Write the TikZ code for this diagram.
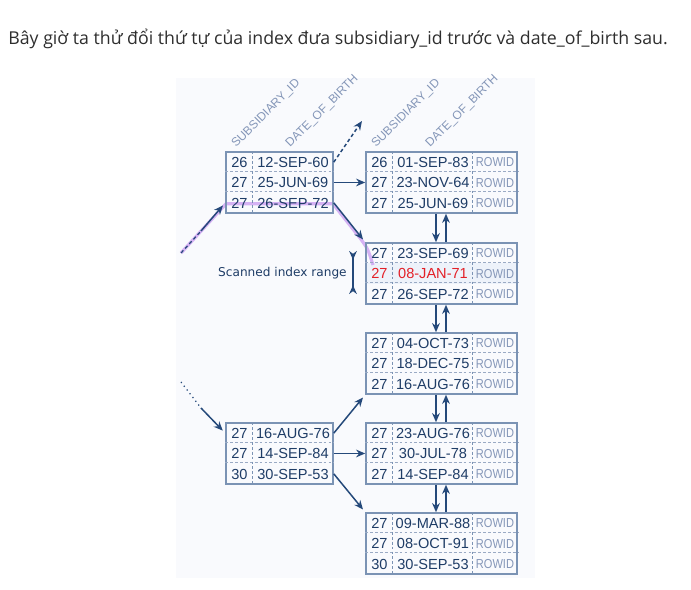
\documentclass[tikz,border=0pt]{standalone}
\usepackage{fontspec}
\setmainfont{Open Sans}
\newfontfamily\cellfont{Liberation Sans}
\newfontfamily\notefont{DejaVu Sans}
\usetikzlibrary{arrows.meta,calc}

\definecolor{ink}{HTML}{1E3C66}
\definecolor{wire}{HTML}{25497A}
\definecolor{frame}{HTML}{7B93B4}
\definecolor{sep}{HTML}{9AAAC4}
\definecolor{pale}{HTML}{8496B8}
\definecolor{hit}{HTML}{E32028}
\definecolor{scan}{HTML}{C99BF2}
\definecolor{panel}{HTML}{F9FAFD}
\definecolor{rowfill}{HTML}{EDF2FA}
\definecolor{title}{HTML}{2E2E2E}

\tikzset{
  box/.style={draw=frame,line width=0.9pt,minimum height=1.22cm,inner sep=0pt},
  cell/.style={font=\cellfont\fontsize{8.3}{9}\selectfont,text=ink,inner sep=0pt,
    text height=6pt,text depth=0pt},
  rowid/.style={font=\cellfont\fontsize{7.4}{8}\selectfont,text=pale,inner sep=0pt,
    text height=5.4pt,text depth=0pt},
  head/.style={font=\cellfont\fontsize{6.8}{8}\selectfont,text=pale,rotate=45,
    anchor=base west,inner sep=0pt},
  sepline/.style={draw=sep,line width=0.5pt,dash pattern=on 1.6pt off 1.2pt},
  colline/.style={draw=frame,line width=0.6pt,dash pattern=on 1.6pt off 1.2pt},
  link/.style={draw=wire,line width=0.85pt,-{Stealth[length=5.2pt,width=4.4pt]}},
  scanpath/.style={draw=scan,line width=1.8pt,opacity=0.75,line join=round},
}

% leaf block: name, center y, rows id/date/colour
\newcommand{\leafblock}[3]{%
  \node[box,minimum width=3.02cm] (#1) at (441.5,#2) {};
  \foreach \s/\d/\c [count=\r] in {#3} {
    \node[cell,text=\c] (#1-s\r) at (379.5,{#2-40.67+20.33*\r}) {\s};
    \node[cell,text=\c] (#1-d\r) at (433,{#2-40.67+20.33*\r}) {\d};
    \node[rowid] (#1-r\r) at (495,{#2-40.67+20.33*\r}) {\scalebox{0.85}[1]{ROWID}};
  }
  \draw[sepline] ($(#1.north west)+(0,20.33)$) -- ($(#1.north east)+(0,20.33)$);
  \draw[sepline] ($(#1.north west)+(0,40.67)$) -- ($(#1.north east)+(0,40.67)$);
  \draw[colline] ($(#1.north west)+(27,0)$) -- ($(#1.south west)+(27,0)$);
  \draw[colline] ($(#1.north west)+(107,0)$) -- ($(#1.south west)+(107,0)$);
}
% branch block: name, center y, rows id/date
\newcommand{\branchblock}[3]{%
  \node[box,minimum width=2.14cm] (#1) at (279.5,#2) {};
  \foreach \s/\d [count=\r] in {#3} {
    \node[cell] (#1-s\r) at (239.5,{#2-40.67+20.33*\r}) {\s};
    \node[cell] (#1-d\r) at (293,{#2-40.67+20.33*\r}) {\d};
  }
  \draw[sepline] ($(#1.north west)+(0,20.33)$) -- ($(#1.north east)+(0,20.33)$);
  \draw[sepline] ($(#1.north west)+(0,40.67)$) -- ($(#1.north east)+(0,40.67)$);
  \draw[colline] ($(#1.north west)+(27,0)$) -- ($(#1.south west)+(27,0)$);
}

\begin{document}
\begin{tikzpicture}[x=0.02cm,y=-0.02cm]
  \useasboundingbox (0,0) rectangle (691,590);
  \fill[panel] (176,78) rectangle (535,578);

  \node[font=\fontsize{10.1}{12}\selectfont,text=title,anchor=base west,inner sep=0pt]
    (caption) at (8,44.5) {Bây giờ ta thử đổi thứ tự của index đưa subsidiary\_id trước và date\_of\_birth sau.};

  % column headers
  \node[head] (h1) at (236,148) {SUBSIDIARY\_ID};
  \node[head] (h2) at (290,148) {DATE\_OF\_BIRTH};
  \node[head] (h3) at (376,148) {SUBSIDIARY\_ID};
  \node[head] (h4) at (430,148) {DATE\_OF\_BIRTH};

  % scanned range
  \fill[rowfill] (366,263.3) rectangle (517,283.7);
  \coordinate (inA) at (181,253);
  \coordinate (inAm) at (201,231);
  \draw[scanpath] (inA) -- (226,203.8) -- (333,203.8) -- (360,238)
    .. controls (368,249) .. (373,265);

  \branchblock{b1}{182.5}{26/12-SEP-60, 27/25-JUN-69, 27/26-SEP-72}
  \branchblock{b2}{453.5}{27/16-AUG-76, 27/14-SEP-84, 30/30-SEP-53}
  \leafblock{l1}{182.5}{26/01-SEP-83/ink, 27/23-NOV-64/ink, 27/25-JUN-69/ink}
  \leafblock{l2}{273.5}{27/23-SEP-69/ink, 27/08-JAN-71/hit, 27/26-SEP-72/ink}
  \leafblock{l3}{363.5}{27/04-OCT-73/ink, 27/18-DEC-75/ink, 27/16-AUG-76/ink}
  \leafblock{l4}{453.5}{27/23-AUG-76/ink, 27/30-JUL-78/ink, 27/14-SEP-84/ink}
  \leafblock{l5}{543.5}{27/09-MAR-88/ink, 27/08-OCT-91/ink, 30/30-SEP-53/ink}

  % leaf chain
  \foreach \a/\b in {l1/l2,l2/l3,l3/l4,l4/l5} {
    \draw[link] ([xshift=-0.11cm]\a.south) -- ([xshift=-0.11cm]\b.north);
    \draw[link] ([xshift=0.09cm]\b.north) -- ([xshift=0.09cm]\a.south);
  }

  % branch to leaves
  \coordinate (upnext) at (362,121);
  \draw[link,dash pattern=on 2pt off 1.5pt] (b1.east |- b1-d1) -- (upnext);
  \draw[link] (b1.east |- b1-d2) -- (l1.west |- b1-d2);
  \draw[link,shorten >=2pt] (b1.east |- b1-d3) -- (l2.north west);
  \draw[wire,line width=0.7pt,dash pattern=on 2pt off 1.5pt] (inA) -- (inAm);
  \draw[link,shorten >=2pt] (inAm) -- (b1.west |- b1-s3);

  \coordinate (inB) at (181,382);
  \coordinate (inBm) at (201,408);
  \draw[wire,line width=0.7pt,dotted] (inB) -- (inBm);
  \draw[link,shorten >=2pt] (inBm) -- (b2.west |- b2-s1);
  \draw[link,shorten >=2pt] (b2.east |- b2-d1) -- (l3.south west);
  \draw[link] (b2.east |- b2-d2) -- (l4.west |- b2-d2);
  \draw[link,shorten >=2pt] (b2.east |- b2-d3) -- (l5.north west);

  % range label
  \node[font=\notefont\fontsize{6.9}{8}\selectfont,text=ink,anchor=east,inner sep=0pt]
    (range) at (347,273) {Scanned index range};
  \coordinate (rtop) at (353,251);
  \coordinate (rbot) at (353,294);
  \draw[wire,line width=0.85pt,{Stealth[reversed,length=5pt,width=4.4pt]}-{Stealth[reversed,length=5pt,width=4.4pt]}]
    (rtop) -- (rbot);
\end{tikzpicture}
\end{document}
